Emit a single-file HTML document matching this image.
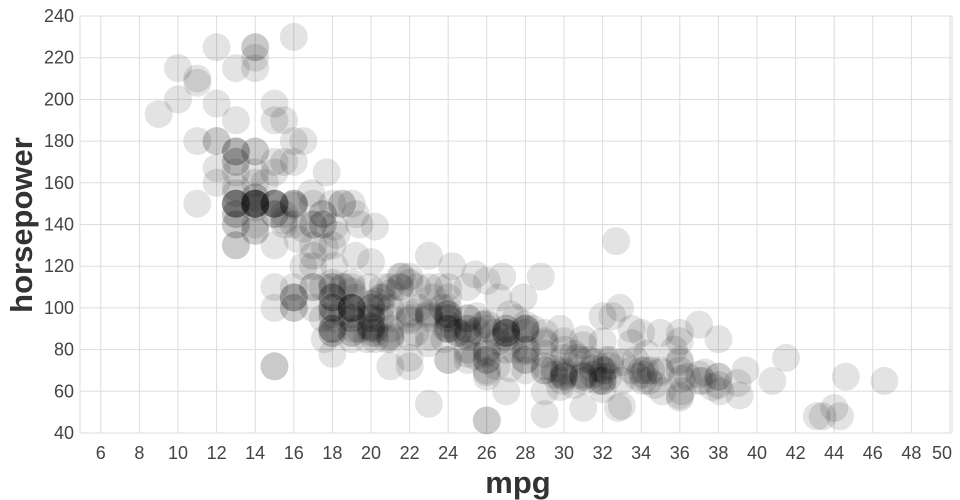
<!DOCTYPE html>
<html><head><meta charset="utf-8"><style>
html,body{margin:0;padding:0;background:#fff;}
svg{display:block;font-family:"Liberation Sans",sans-serif;}
.t{font-size:18px;fill:#444;}
.ti{font-size:31px;font-weight:bold;fill:#333;}
</style></head><body>
<svg id="s" width="960" height="500" viewBox="0 0 960 500"></svg>
<script>
var d=[[18,130],[15,165],[18,150],[16,150],[17,140],[15,198],[14,220],[14,215],[14,225],[15,190],[15,170],[14,160],[15,150],[14,225],[24,95],[22,95],[18,97],[21,85],[27,88],[26,46],[25,87],[24,90],[25,95],[26,113],[21,90],[10,215],[10,200],[11,210],[9,193],[27,88],[28,90],[25,95],[19,100],[16,105],[17,100],[19,88],[18,100],[14,165],[14,175],[14,153],[14,150],[12,180],[13,170],[13,175],[18,110],[22,72],[19,100],[18,88],[23,86],[28,90],[30,70],[30,76],[31,65],[35,69],[27,60],[26,70],[24,95],[25,80],[23,54],[20,90],[21,86],[13,165],[14,175],[15,150],[14,153],[17,150],[11,208],[13,155],[12,160],[13,190],[19,97],[15,150],[13,130],[13,140],[14,150],[18,112],[22,76],[21,87],[26,69],[22,86],[28,92],[23,97],[28,80],[27,88],[13,175],[14,150],[13,145],[14,137],[15,150],[12,198],[13,150],[13,158],[14,150],[13,215],[12,225],[13,175],[18,105],[16,100],[18,100],[18,88],[23,95],[26,46],[11,150],[12,167],[13,170],[12,180],[18,100],[20,88],[21,72],[22,94],[18,90],[19,85],[21,107],[26,90],[15,145],[16,230],[29,49],[24,75],[20,91],[19,112],[15,150],[24,110],[20,122],[11,180],[20,95],[21,100],[19,100],[15,100],[31,67],[26,80],[32,65],[25,75],[16,100],[16,110],[18,105],[16,140],[13,150],[14,150],[14,140],[14,150],[29,83],[26,67],[26,78],[31,52],[32,61],[28,75],[24,75],[26,75],[24,97],[26,93],[31,67],[19,95],[18,105],[15,72],[15,72],[16,170],[15,145],[16,150],[14,148],[17,110],[16,105],[15,110],[13,140],[14,150],[18,110],[22,98],[24,97],[20,97],[19,110],[18,90],[23,98],[29,88],[24,90],[20,91],[19,95],[24,105],[25,86],[29,70],[25,78],[23,83],[21,110],[20,95],[18,90],[17,120],[19,100],[27,80],[23,96],[23,110],[22,115],[28,70],[25,90],[32.5,96],[16,150],[17,140],[17.5,145],[15.5,140],[14.5,160],[17.5,140],[19,150],[18.5,150],[16,105],[20,100],[22.5,100],[29,72],[24.5,88],[29,70],[33,53],[20,100],[18,78],[18.5,110],[17.5,95],[29.5,71],[32,70],[28,75],[26.5,72],[20,102],[13,150],[19,88],[19,108],[16.5,120],[16.5,180],[13,145],[13,130],[13,150],[31.5,68],[30,80],[36,58],[25.5,96],[33.5,70],[17.5,145],[17,110],[15.5,145],[15,130],[17.5,110],[20.5,105],[19,100],[18.5,98],[16,180],[15.5,170],[15.5,190],[16,149],[29,78],[24.5,88],[26,75],[25.5,89],[30.5,63],[33.5,83],[30,67],[30.5,78],[22,97],[21.5,110],[21.5,110],[43.1,48],[36.1,66],[32.8,52],[39.4,70],[36.1,60],[19.9,110],[19.4,140],[20.2,139],[19.2,105],[20.5,95],[20.2,85],[25.1,88],[20.5,100],[19.4,90],[20.6,105],[20.8,85],[18.6,110],[18.1,120],[19.2,145],[17.7,165],[18.1,139],[17.5,140],[30,68],[27.5,95],[27.2,97],[30.9,75],[21.1,95],[23.2,105],[23.8,85],[23.9,97],[20.3,103],[17,125],[21.6,115],[16.2,133],[31.5,71],[29.5,68],[21.5,115],[19.8,85],[22.3,88],[20.2,90],[20.6,110],[17,130],[17.6,129],[16.5,138],[18.2,135],[16.9,155],[15.5,142],[19.2,125],[18.5,150],[31.9,71],[34.1,65],[35.7,80],[27.4,80],[25.4,77],[23,125],[27.2,71],[23.9,90],[34.2,70],[34.5,70],[31.8,65],[37.3,69],[28.4,90],[28.8,115],[26.8,115],[33.5,90],[41.5,76],[38.1,60],[32.1,70],[37.2,65],[28,90],[26.4,88],[24.3,90],[19.1,90],[34.3,78],[29.8,90],[31.3,75],[37,92],[32.2,75],[46.6,65],[27.9,105],[40.8,65],[44.3,48],[43.4,48],[36.4,67],[30,67],[44.6,67],[33.8,67],[29.8,62],[32.7,132],[23.7,100],[35,88],[32.4,72],[27.2,84],[26.6,84],[25.8,92],[23.5,110],[30,84],[39.1,58],[39,64],[35.1,60],[32.3,67],[37,65],[37.7,62],[34.1,68],[34.7,63],[34.4,65],[29.9,65],[33,74],[33.7,75],[32.4,75],[32.9,100],[31.6,74],[28.1,80],[30.7,76],[25.4,116],[24.2,120],[22.4,110],[26.6,105],[20.2,88],[17.6,85],[28,88],[27,88],[34,88],[31,85],[29,84],[27,90],[24,92],[36,74],[37,68],[31,68],[38,63],[36,70],[36,88],[36,75],[34,70],[38,67],[32,67],[38,67],[25,110],[38,85],[26,92],[22,112],[32,96],[36,84],[27,90],[27,86],[44,52],[32,84],[28,79],[31,82],[18,95],[13,150],[14,137],[33,65],[32,65],[25,90],[30,69],[24,100],[26,79],[36,57],[35,70],[29,60]];
var s=document.getElementById('s'),h='';
function X(v){return 178+(v-10)*19.3}
function Y(v){return 433-(v-40)*2.085}
for(var v=6;v<=50;v+=2){var x=X(v);h+='<line x1="'+x+'" y1="16" x2="'+x+'" y2="433" stroke="#ddd"/>';h+='<text class="t" x="'+(v==50?x-8:x)+'" y="459" text-anchor="middle">'+v+'</text>';}
for(var v=40;v<=240;v+=20){var y=Y(v);h+='<line x1="80" y1="'+y+'" x2="952" y2="'+y+'" stroke="#ddd"/>';h+='<text class="t" x="74" y="'+(y+6)+'" text-anchor="end">'+v+'</text>';}
h+='<line x1="80" y1="16" x2="80" y2="433" stroke="#ddd"/><line x1="952" y1="16" x2="952" y2="433" stroke="#ddd"/>';
d.forEach(function(p){h+='<circle cx="'+X(p[0]).toFixed(1)+'" cy="'+Y(p[1]).toFixed(1)+'" r="14" fill="#000" fill-opacity="0.11"/>';});
h+='<text class="ti" x="518" y="493" text-anchor="middle">mpg</text>';
h+='<text class="ti" transform="translate(32,225) rotate(-90)" text-anchor="middle">horsepower</text>';
s.innerHTML=h;
</script>
</body></html>
